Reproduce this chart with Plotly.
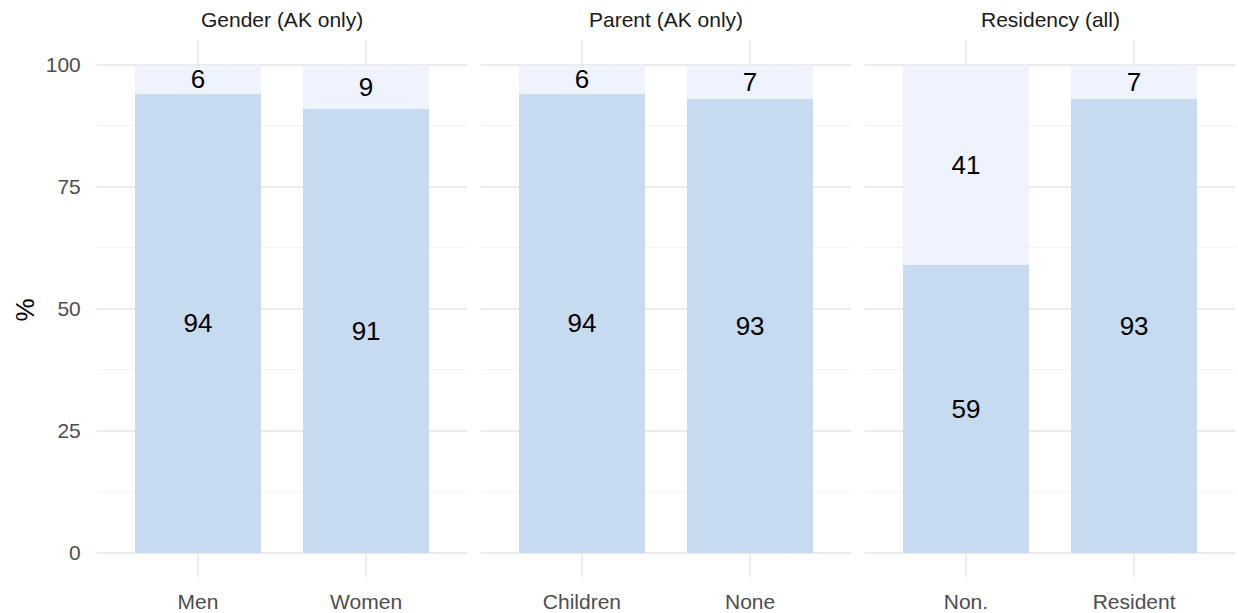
import plotly.graph_objects as go

panels = ["Gender (AK only)", "Parent (AK only)", "Residency (all)"]
categories = [["Men", "Women"], ["Children", "None"], ["Non.", "Resident"]]
bottom_vals = [[94, 91], [94, 93], [59, 93]]
top_vals = [[6, 9], [6, 7], [41, 7]]

W, H = 1238, 613
x_px = [(97, 467), (481, 851), (865, 1235)]
y_top_px, y_bot_px = 40.5, 580
FONT = "Liberation Sans, Arial, sans-serif"
grid = "#ebebeb"
LABEL_SIZE = 26

fig = go.Figure()
for i in range(3):
    ax = "" if i == 0 else str(i + 1)
    for vals, col in ((bottom_vals[i], "#c6dbef"), (top_vals[i], "#eff3ff")):
        fig.add_trace(go.Bar(x=categories[i], y=vals, marker_color=col,
                             marker_line_width=0, width=0.75, text=vals,
                             textposition="inside", insidetextanchor="middle", textangle=0,
                             textfont=dict(size=LABEL_SIZE, color="black", family=FONT),
                             xaxis="x" + ax, yaxis="y" + ax, showlegend=False, hoverinfo="skip"))
    x0, x1 = x_px[i]
    fig.update_layout(**{
        "xaxis" + ax: dict(domain=[x0 / W, x1 / W], anchor="y" + ax, range=[-0.6, 1.6],
                           showgrid=True, gridcolor=grid, gridwidth=1.6, zeroline=False,
                           showline=False, ticks="outside", ticklen=6, tickcolor="rgba(0,0,0,0)",
                           tickfont=dict(size=21, color="#4d4d4d", family=FONT), fixedrange=True),
        "yaxis" + ax: dict(domain=[1 - y_bot_px / H, 1 - y_top_px / H], anchor="x" + ax,
                           range=[-5, 105], tickvals=[0, 25, 50, 75, 100],
                           showticklabels=(i == 0), showgrid=True, gridcolor=grid, gridwidth=1.6,
                           zeroline=False, showline=False,
                           minor=dict(tickvals=[12.5, 37.5, 62.5, 87.5], showgrid=True,
                                      gridcolor="#f2f2f2", gridwidth=1),
                           ticks="outside" if i == 0 else "", ticklen=11, tickcolor="rgba(0,0,0,0)",
                           tickfont=dict(size=21, color="#4d4d4d", family=FONT), fixedrange=True),
    })
    fig.add_annotation(text=panels[i], x=(x0 + x1) / 2 / W, y=1 - 20 / H, xref="paper", yref="paper",
                       showarrow=False, xanchor="center", yanchor="middle",
                       font=dict(size=21, color="#1a1a1a", family=FONT))

fig.add_annotation(text="%", x=25 / W, y=1 - 312 / H, xref="paper", yref="paper", showarrow=False,
                   textangle=-90, xanchor="center", yanchor="middle",
                   font=dict(size=26, color="black", family=FONT))

fig.update_layout(width=W, height=H, barmode="stack", bargap=0.25,
                  margin=dict(l=0, r=0, t=0, b=0), plot_bgcolor="white", paper_bgcolor="white",
                  uniformtext=dict(mode="show", minsize=LABEL_SIZE), font=dict(family=FONT))

fig.write_html("out.html", config={"displayModeBar": False},
               post_script="document.body.style.margin='0px';document.body.style.overflow='hidden';")
